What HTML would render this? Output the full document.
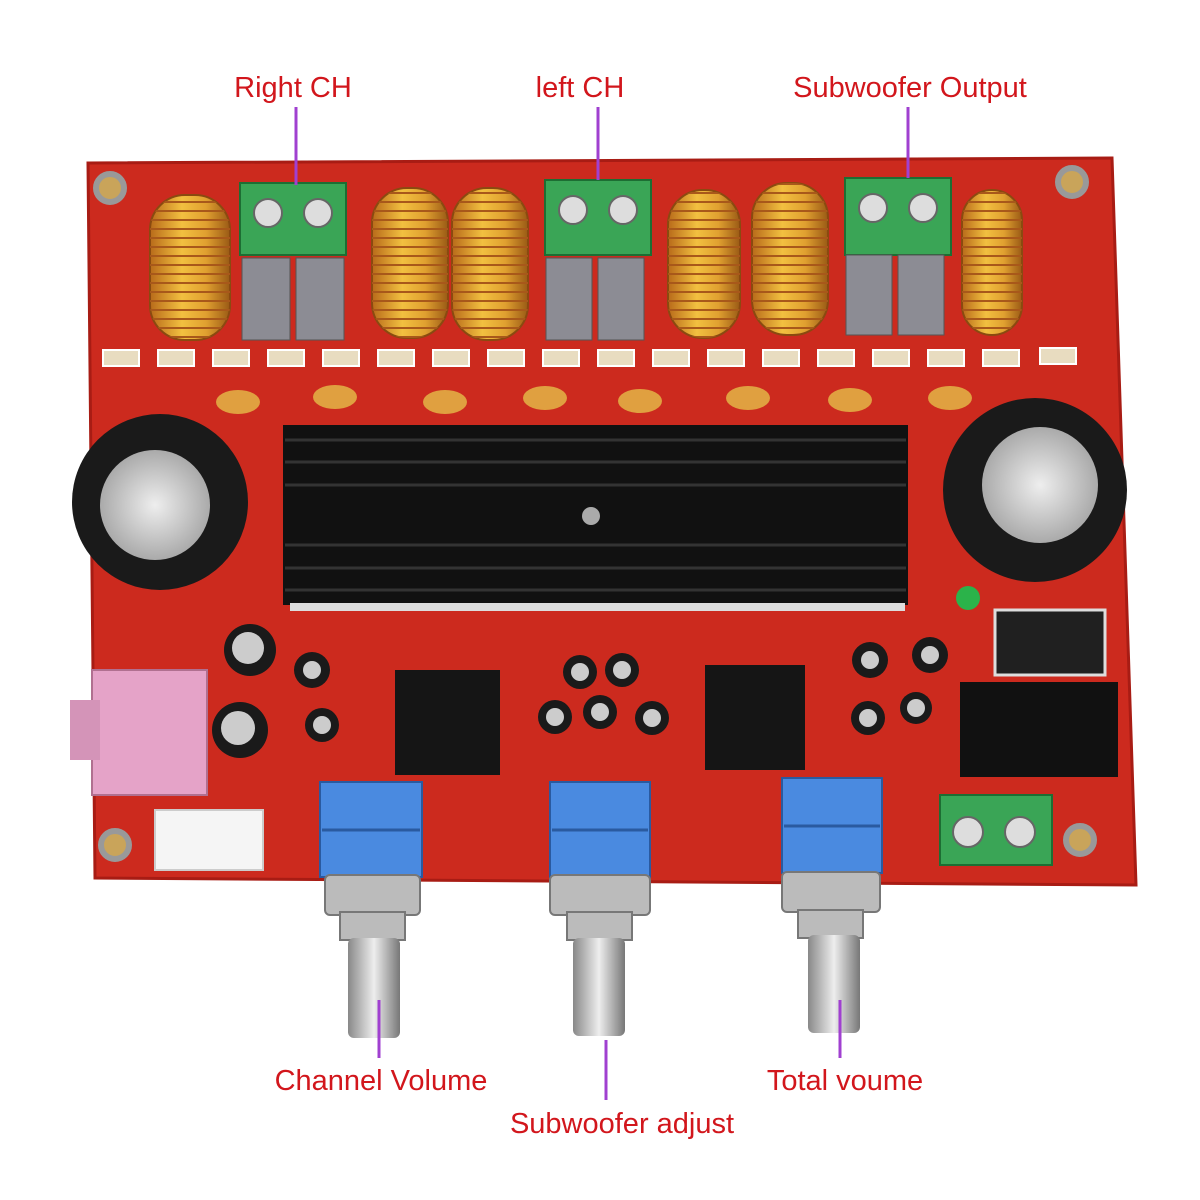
<!DOCTYPE html>
<html><head><meta charset="utf-8"><style>
body{margin:0;background:#fff}
svg{display:block}
.l{font-family:"Liberation Sans",sans-serif;font-size:29px;fill:#d2161c}
</style></head><body>
<svg width="1200" height="1200" viewBox="0 0 1200 1200" xmlns="http://www.w3.org/2000/svg">
<defs>
<linearGradient id="coil" x1="0" x2="1"><stop offset="0" stop-color="#b86a1a"/><stop offset=".4" stop-color="#f2c040"/><stop offset=".7" stop-color="#e0a030"/><stop offset="1" stop-color="#9a5a15"/></linearGradient>
<pattern id="wire" width="10" height="9" patternUnits="userSpaceOnUse"><line x1="0" y1="4" x2="10" y2="4" stroke="#a8581a" stroke-width="2"/></pattern>
<linearGradient id="shaft" x1="0" x2="1"><stop offset="0" stop-color="#888"/><stop offset=".5" stop-color="#eee"/><stop offset="1" stop-color="#777"/></linearGradient>
<radialGradient id="cap"><stop offset="0" stop-color="#eee"/><stop offset="1" stop-color="#aaa"/></radialGradient>
</defs>
<polygon points="88,163 1112,158 1136,885 95,878" fill="#cc2a1e"/>
<polygon points="88,163 1112,158 1136,885 95,878" fill="none" stroke="#a81c14" stroke-width="3"/>
<g fill="#c9a45a" stroke="#999" stroke-width="6">
<circle cx="110" cy="188" r="14"/><circle cx="1072" cy="182" r="14"/><circle cx="115" cy="845" r="14"/><circle cx="1080" cy="840" r="14"/>
</g>
<g id="coils" stroke="#8a4a10" stroke-width="2">
<g fill="url(#coil)">
<rect x="150" y="195" width="80" height="145" rx="35"/>
<rect x="372" y="188" width="76" height="150" rx="35"/>
<rect x="452" y="188" width="76" height="152" rx="35"/>
<rect x="668" y="190" width="72" height="148" rx="35"/>
<rect x="752" y="183" width="76" height="152" rx="35"/>
<rect x="962" y="190" width="60" height="145" rx="30"/>
</g>
<g fill="url(#wire)" stroke="none">
<rect x="150" y="195" width="80" height="145" rx="35"/>
<rect x="372" y="188" width="76" height="150" rx="35"/>
<rect x="452" y="188" width="76" height="152" rx="35"/>
<rect x="668" y="190" width="72" height="148" rx="35"/>
<rect x="752" y="183" width="76" height="152" rx="35"/>
<rect x="962" y="190" width="60" height="145" rx="30"/>
</g>
</g>
<g>
<rect x="240" y="183" width="106" height="72" fill="#3aa556" stroke="#1d6e33" stroke-width="2"/>
<rect x="545" y="180" width="106" height="75" fill="#3aa556" stroke="#1d6e33" stroke-width="2"/>
<rect x="845" y="178" width="106" height="77" fill="#3aa556" stroke="#1d6e33" stroke-width="2"/>
<rect x="940" y="795" width="112" height="70" fill="#3aa556" stroke="#1d6e33" stroke-width="2"/>
<g fill="#ddd" stroke="#666" stroke-width="2">
<circle cx="268" cy="213" r="14"/><circle cx="318" cy="213" r="14"/>
<circle cx="573" cy="210" r="14"/><circle cx="623" cy="210" r="14"/>
<circle cx="873" cy="208" r="14"/><circle cx="923" cy="208" r="14"/>
<circle cx="968" cy="832" r="15"/><circle cx="1020" cy="832" r="15"/>
</g></g>
<g fill="#8c8c94" stroke="#555" stroke-width="1">
<rect x="242" y="258" width="48" height="82"/><rect x="296" y="258" width="48" height="82"/>
<rect x="546" y="258" width="46" height="82"/><rect x="598" y="258" width="46" height="82"/>
<rect x="846" y="255" width="46" height="80"/><rect x="898" y="255" width="46" height="80"/>
</g>
<g fill="#e8dcc0" stroke="#fff" stroke-width="2">
<rect x="103" y="350" width="36" height="16"/><rect x="158" y="350" width="36" height="16"/><rect x="213" y="350" width="36" height="16"/><rect x="268" y="350" width="36" height="16"/><rect x="323" y="350" width="36" height="16"/><rect x="378" y="350" width="36" height="16"/><rect x="433" y="350" width="36" height="16"/><rect x="488" y="350" width="36" height="16"/><rect x="543" y="350" width="36" height="16"/><rect x="598" y="350" width="36" height="16"/><rect x="653" y="350" width="36" height="16"/><rect x="708" y="350" width="36" height="16"/><rect x="763" y="350" width="36" height="16"/><rect x="818" y="350" width="36" height="16"/><rect x="873" y="350" width="36" height="16"/><rect x="928" y="350" width="36" height="16"/><rect x="983" y="350" width="36" height="16"/><rect x="1040" y="348" width="36" height="16"/>
</g>
<g fill="#e0a040">
<ellipse cx="238" cy="402" rx="22" ry="12"/><ellipse cx="335" cy="397" rx="22" ry="12"/><ellipse cx="445" cy="402" rx="22" ry="12"/><ellipse cx="545" cy="398" rx="22" ry="12"/><ellipse cx="640" cy="401" rx="22" ry="12"/><ellipse cx="748" cy="398" rx="22" ry="12"/><ellipse cx="850" cy="400" rx="22" ry="12"/><ellipse cx="950" cy="398" rx="22" ry="12"/>
</g>
<rect x="283" y="425" width="625" height="180" fill="#111"/>
<g stroke="#333" stroke-width="3">
<line x1="285" y1="440" x2="906" y2="440"/><line x1="285" y1="462" x2="906" y2="462"/><line x1="285" y1="485" x2="906" y2="485"/><line x1="285" y1="545" x2="906" y2="545"/><line x1="285" y1="568" x2="906" y2="568"/><line x1="285" y1="590" x2="906" y2="590"/>
</g>
<circle cx="591" cy="516" r="9" fill="#aaa"/>
<rect x="290" y="603" width="615" height="8" fill="#ddd"/>
<circle cx="160" cy="502" r="88" fill="#1a1a1a"/><circle cx="155" cy="505" r="55" fill="url(#cap)"/>
<circle cx="1035" cy="490" r="92" fill="#1a1a1a"/><circle cx="1040" cy="485" r="58" fill="url(#cap)"/>
<g fill="#1a1a1a"><circle cx="250" cy="650" r="26"/><circle cx="312" cy="670" r="18"/><circle cx="240" cy="730" r="28"/><circle cx="322" cy="725" r="17"/>
<circle cx="580" cy="672" r="17"/><circle cx="622" cy="670" r="17"/><circle cx="555" cy="717" r="17"/><circle cx="600" cy="712" r="17"/><circle cx="652" cy="718" r="17"/>
<circle cx="870" cy="660" r="18"/><circle cx="930" cy="655" r="18"/><circle cx="868" cy="718" r="17"/><circle cx="916" cy="708" r="16"/></g>
<g fill="#ccc"><circle cx="248" cy="648" r="16"/><circle cx="238" cy="728" r="17"/><circle cx="580" cy="672" r="9"/><circle cx="622" cy="670" r="9"/><circle cx="555" cy="717" r="9"/><circle cx="600" cy="712" r="9"/><circle cx="652" cy="718" r="9"/><circle cx="870" cy="660" r="9"/><circle cx="930" cy="655" r="9"/><circle cx="868" cy="718" r="9"/><circle cx="916" cy="708" r="9"/><circle cx="312" cy="670" r="9"/><circle cx="322" cy="725" r="9"/></g>
<rect x="395" y="670" width="105" height="105" fill="#151515"/><rect x="705" y="665" width="100" height="105" fill="#151515"/>
<circle cx="968" cy="598" r="12" fill="#2bb34a"/>
<rect x="995" y="610" width="110" height="65" fill="#202020" stroke="#ddd" stroke-width="3"/>
<rect x="960" y="682" width="158" height="95" fill="#111"/>
<rect x="92" y="670" width="115" height="125" fill="#e5a3c8" stroke="#b07090" stroke-width="2"/>
<rect x="70" y="700" width="30" height="60" fill="#d494b8"/>
<rect x="155" y="810" width="108" height="60" fill="#f5f5f5" stroke="#ccc" stroke-width="2"/>
<g>
<rect x="320" y="782" width="102" height="95" fill="#4a8ae0" stroke="#2a5aa0" stroke-width="2"/>
<rect x="550" y="782" width="100" height="95" fill="#4a8ae0" stroke="#2a5aa0" stroke-width="2"/>
<rect x="782" y="778" width="100" height="95" fill="#4a8ae0" stroke="#2a5aa0" stroke-width="2"/>
<line x1="322" y1="830" x2="420" y2="830" stroke="#2a5aa0" stroke-width="3"/>
<line x1="552" y1="830" x2="648" y2="830" stroke="#2a5aa0" stroke-width="3"/>
<line x1="784" y1="826" x2="880" y2="826" stroke="#2a5aa0" stroke-width="3"/>
<g fill="#bbb" stroke="#777" stroke-width="2">
<rect x="325" y="875" width="95" height="40" rx="5"/><rect x="550" y="875" width="100" height="40" rx="5"/><rect x="782" y="872" width="98" height="40" rx="5"/>
<rect x="340" y="912" width="65" height="28"/><rect x="567" y="912" width="65" height="28"/><rect x="798" y="910" width="65" height="28"/>
</g>
<g fill="url(#shaft)"><rect x="348" y="938" width="52" height="100" rx="6"/><rect x="573" y="938" width="52" height="98" rx="6"/><rect x="808" y="935" width="52" height="98" rx="6"/></g>
</g>
<g stroke="#a040d0" stroke-width="3">
<line x1="296" y1="107" x2="296" y2="185"/><line x1="598" y1="107" x2="598" y2="180"/><line x1="908" y1="107" x2="908" y2="178"/>
<line x1="379" y1="1000" x2="379" y2="1058"/><line x1="606" y1="1040" x2="606" y2="1100"/><line x1="840" y1="1000" x2="840" y2="1058"/>
</g>
<text class="l" x="293" y="97" text-anchor="middle">Right CH</text>
<text class="l" x="580" y="97" text-anchor="middle">left CH</text>
<text class="l" x="910" y="97" text-anchor="middle">Subwoofer Output</text>
<text class="l" x="381" y="1090" text-anchor="middle">Channel Volume</text>
<text class="l" x="622" y="1133" text-anchor="middle">Subwoofer adjust</text>
<text class="l" x="845" y="1090" text-anchor="middle">Total voume</text>
</svg>
</body></html>
